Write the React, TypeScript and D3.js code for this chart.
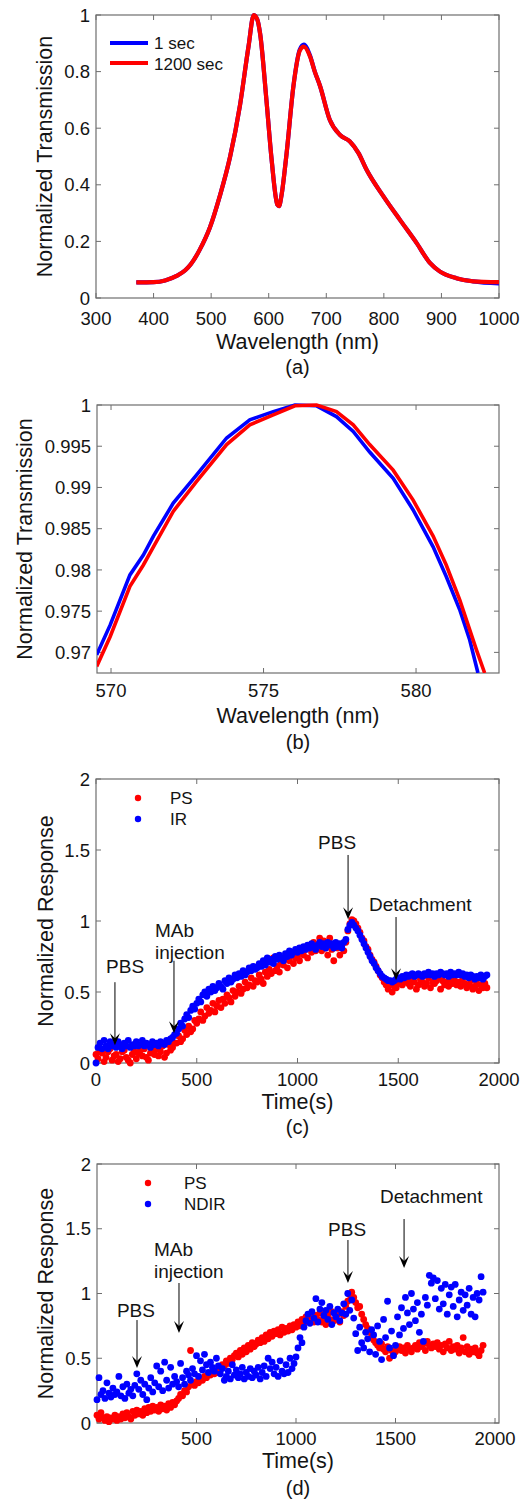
import * as d3 from "d3";

const FONT = "'Liberation Sans', Arial, Helvetica, sans-serif";
const BOX = "#6e6e6e";
const INK = "#141414";
const BLUE = "#0000ff";
const RED = "#ff0000";

// (a) full transmission spectrum
const specWl = [370, 400, 420, 440, 455, 465, 480, 498, 515, 533, 550, 565, 574, 580, 585, 596, 605, 615, 618, 622, 631, 643, 654, 661, 672, 680, 689, 706, 724, 741, 756, 770, 799, 828, 857, 880, 897, 926, 955, 1000];
const spec1s = [0.055, 0.056, 0.062, 0.078, 0.098, 0.12, 0.17, 0.25, 0.36, 0.5, 0.68, 0.89, 1.0, 0.985, 0.935, 0.7, 0.49, 0.33, 0.325, 0.36, 0.51, 0.75, 0.878, 0.895, 0.855, 0.8, 0.75, 0.63, 0.576, 0.553, 0.512, 0.453, 0.36, 0.276, 0.194, 0.124, 0.094, 0.07, 0.059, 0.052];
const spec1200s = [0.055, 0.056, 0.062, 0.078, 0.098, 0.12, 0.17, 0.25, 0.36, 0.5, 0.68, 0.89, 1.0, 0.985, 0.935, 0.7, 0.49, 0.33, 0.325, 0.36, 0.51, 0.75, 0.874, 0.888, 0.852, 0.8, 0.75, 0.63, 0.576, 0.553, 0.512, 0.453, 0.36, 0.276, 0.194, 0.124, 0.094, 0.07, 0.059, 0.056];
const specLegend = ["1 sec", "1200 sec"];

// (b) zoom on the first peak
const peakWl1s = [569.53, 569.97, 570.62, 571.06, 571.39, 572.04, 572.8, 573.79, 574.55, 575.32, 576.03, 576.74, 577.39, 577.94, 578.48, 579.25, 579.9, 580.56, 580.99, 581.43, 581.76, 582.03];
const peak1s = [0.9697, 0.9733, 0.9794, 0.9818, 0.9841, 0.9881, 0.9915, 0.996, 0.9982, 0.9992, 1.0, 0.9999, 0.9986, 0.9968, 0.9943, 0.9911, 0.9873, 0.9828, 0.9792, 0.9752, 0.9715, 0.9675];
const peakWl1200s = [569.53, 569.97, 570.62, 571.06, 571.39, 572.04, 572.8, 573.79, 574.55, 575.32, 576.03, 576.74, 577.39, 577.94, 578.48, 579.25, 579.9, 580.56, 580.99, 581.43, 581.98, 582.25];
const peak1200s = [0.9683, 0.9719, 0.978, 0.9806, 0.9828, 0.9871, 0.9907, 0.9952, 0.9976, 0.9988, 0.9999, 1.0, 0.9992, 0.9976, 0.9952, 0.9921, 0.9885, 0.9841, 0.9806, 0.9764, 0.9703, 0.9675];

// (c) and (d) kinetics, one reading every 10 s
const times = d3.range(0, 1950, 10);

const psC = [
  0.06, 0.03, 0.09, 0.07, 0.01, 0.04, 0.08, 0.10, 0.02, 0.05,
  0.06, 0.01, 0.03, 0.08, 0.09, 0.04, 0.02, 0.00, 0.06, 0.08,
  0.03, 0.07, 0.09, 0.05, 0.10, 0.04, 0.02, 0.07, 0.09, 0.06,
  0.10, 0.05, 0.08, 0.12, 0.04, 0.07, 0.13, 0.09, 0.11, 0.14,
  0.14, 0.19, 0.15, 0.17, 0.23, 0.20, 0.26, 0.22, 0.24, 0.30,
  0.28, 0.31, 0.36, 0.30, 0.33, 0.39, 0.35, 0.37, 0.42, 0.36,
  0.40, 0.44, 0.39, 0.45, 0.42, 0.48, 0.46, 0.43, 0.51, 0.47,
  0.50, 0.54, 0.49, 0.52, 0.57, 0.53, 0.55, 0.60, 0.54, 0.58,
  0.57, 0.62, 0.59, 0.56, 0.64, 0.61, 0.66, 0.63, 0.74, 0.65,
  0.68, 0.64, 0.71, 0.69, 0.73, 0.67, 0.72, 0.76, 0.70, 0.74,
  0.75, 0.72, 0.78, 0.76, 0.80, 0.74, 0.82, 0.78, 0.85, 0.79,
  0.83, 0.88, 0.79, 0.86, 0.81, 0.76, 0.88, 0.80, 0.72, 0.84,
  0.81, 0.76, 0.83, 0.79, 0.85, 0.93, 0.98, 1.01, 1.00, 0.98,
  0.95, 0.92, 0.88, 0.86, 0.82, 0.80, 0.76, 0.73, 0.71, 0.68,
  0.65, 0.62, 0.60, 0.57, 0.55, 0.52, 0.56, 0.50, 0.54, 0.53,
  0.56, 0.58, 0.55, 0.57, 0.60, 0.56, 0.54, 0.58, 0.57, 0.52,
  0.55, 0.59, 0.57, 0.54, 0.56, 0.60, 0.53, 0.57, 0.56, 0.58,
  0.60, 0.52, 0.58, 0.55, 0.57, 0.54, 0.59, 0.56, 0.58, 0.55,
  0.57, 0.54, 0.60, 0.56, 0.53, 0.55, 0.58, 0.52, 0.54, 0.56,
  0.51, 0.55, 0.53, 0.56, 0.53,
];
const irC = [
  0.00, 0.11, 0.14, 0.10, 0.16, 0.12, 0.10, 0.15, 0.12, 0.13,
  0.11, 0.15, 0.12, 0.10, 0.14, 0.12, 0.16, 0.11, 0.13, 0.12,
  0.15, 0.12, 0.13, 0.16, 0.12, 0.14, 0.13, 0.11, 0.15, 0.13,
  0.14, 0.12, 0.15, 0.14, 0.13, 0.16, 0.15, 0.17, 0.18, 0.20,
  0.21, 0.24, 0.28, 0.26, 0.31, 0.34, 0.32, 0.37, 0.40, 0.38,
  0.42, 0.45, 0.43, 0.48, 0.50, 0.47, 0.52, 0.50, 0.54, 0.51,
  0.53, 0.56, 0.54, 0.52, 0.58, 0.56, 0.60, 0.57, 0.59, 0.62,
  0.60, 0.63, 0.61, 0.65, 0.62, 0.64, 0.67, 0.65, 0.68, 0.66,
  0.67, 0.70, 0.68, 0.72, 0.69, 0.74, 0.71, 0.73, 0.70, 0.75,
  0.73, 0.76, 0.74, 0.72, 0.77, 0.75, 0.79, 0.76, 0.78, 0.80,
  0.78, 0.81, 0.79, 0.82, 0.80, 0.83, 0.81, 0.84, 0.82, 0.80,
  0.83, 0.85, 0.82, 0.84, 0.81, 0.85, 0.83, 0.84, 0.81, 0.85,
  0.82, 0.84, 0.81, 0.85, 0.87, 0.94, 0.97, 0.99, 0.97, 0.95,
  0.93, 0.90, 0.87, 0.84, 0.81, 0.78, 0.75, 0.72, 0.70, 0.67,
  0.65, 0.63, 0.61, 0.60, 0.59, 0.58, 0.58, 0.57, 0.58, 0.59,
  0.60, 0.59, 0.61, 0.60, 0.62, 0.61, 0.62, 0.63, 0.61, 0.62,
  0.63, 0.62, 0.61, 0.63, 0.62, 0.64, 0.62, 0.63, 0.61, 0.63,
  0.62, 0.64, 0.63, 0.62, 0.63, 0.61, 0.64, 0.62, 0.63, 0.62,
  0.64, 0.62, 0.63, 0.61, 0.62, 0.60, 0.62, 0.61, 0.59, 0.61,
  0.60, 0.62, 0.59, 0.61, 0.62,
];

const psD = [
  0.06, 0.03, 0.08, 0.04, 0.02, 0.05, 0.01, 0.04, 0.03, 0.06,
  0.02, 0.05, 0.03, 0.07, 0.04, 0.08, 0.05, 0.03, 0.09, 0.06,
  0.10, 0.07, 0.09, 0.06, 0.11, 0.08, 0.12, 0.09, 0.13, 0.10,
  0.12, 0.09, 0.14, 0.11, 0.13, 0.10, 0.15, 0.12, 0.16, 0.14,
  0.17, 0.19, 0.22, 0.21, 0.25, 0.24, 0.28, 0.56, 0.30, 0.29,
  0.32, 0.31, 0.34, 0.33, 0.36, 0.35, 0.38, 0.37, 0.39, 0.38,
  0.40, 0.39, 0.43, 0.45, 0.44, 0.48, 0.46, 0.50, 0.49, 0.52,
  0.54, 0.51, 0.56, 0.53, 0.58, 0.55, 0.60, 0.57, 0.62, 0.59,
  0.61, 0.64, 0.62, 0.66, 0.63, 0.68, 0.65, 0.70, 0.67, 0.71,
  0.69, 0.72, 0.68, 0.74, 0.70, 0.73, 0.71, 0.75, 0.72, 0.76,
  0.74, 0.78, 0.75, 0.80, 0.77, 0.82, 0.79, 0.84, 0.81, 0.78,
  0.83, 0.80, 0.85, 0.78, 0.82, 0.76, 0.84, 0.80, 0.86, 0.79,
  0.81, 0.84, 0.78, 0.86, 0.83, 0.90, 0.94, 0.99, 1.01, 0.97,
  0.93, 0.89, 0.90, 0.84, 0.80, 0.76, 0.73, 0.70, 0.66, 0.64,
  0.62, 0.60, 0.58, 0.61, 0.57, 0.55, 0.59, 0.50, 0.56, 0.53,
  0.55, 0.57, 0.59, 0.56, 0.58, 0.54, 0.60, 0.57, 0.55, 0.58,
  0.60, 0.57, 0.62, 0.59, 0.61, 0.56, 0.63, 0.60, 0.58, 0.61,
  0.59, 0.62, 0.57, 0.60, 0.55, 0.61, 0.58, 0.63, 0.56, 0.59,
  0.57, 0.60, 0.54, 0.58, 0.66, 0.55, 0.59, 0.53, 0.57, 0.55,
  0.58, 0.54, 0.52, 0.56, 0.60,
];
const ndirD = [
  0.18, 0.35, 0.22, 0.25, 0.19, 0.31, 0.23, 0.20, 0.27, 0.22,
  0.24, 0.36, 0.21, 0.28, 0.19, 0.30, 0.23, 0.26, 0.21, 0.29,
  0.38, 0.26, 0.33, 0.22, 0.30, 0.18, 0.27, 0.35, 0.24, 0.31,
  0.44, 0.28, 0.40, 0.25, 0.47, 0.33, 0.27, 0.43, 0.30, 0.36,
  0.32, 0.28, 0.46, 0.35, 0.30, 0.40, 0.37, 0.33, 0.42, 0.38,
  0.52, 0.36, 0.48, 0.41, 0.53, 0.45, 0.39, 0.47, 0.43, 0.40,
  0.50, 0.44, 0.38, 0.42, 0.33, 0.36, 0.40, 0.34, 0.45, 0.37,
  0.41, 0.35, 0.38, 0.43, 0.34, 0.39, 0.36, 0.42, 0.35, 0.40,
  0.37, 0.43, 0.34, 0.39, 0.44, 0.36, 0.50, 0.42, 0.47, 0.38,
  0.43, 0.36, 0.48, 0.40, 0.38, 0.45, 0.39, 0.50, 0.42, 0.46,
  0.51, 0.58, 0.66, 0.62, 0.74, 0.79, 0.84, 0.77, 0.86, 0.81,
  0.96, 0.78, 0.88, 0.93, 0.83, 0.87, 0.80, 0.90, 0.76, 0.85,
  0.82, 0.88, 0.79, 0.85, 0.92, 0.84, 1.00, 0.87, 0.95, 0.81,
  0.69, 0.56, 0.74, 0.62, 0.58, 0.70, 0.65, 0.55, 0.72, 0.68,
  0.53, 0.75, 0.63, 0.49, 0.80, 0.66, 0.94, 0.58, 0.71, 0.52,
  0.60, 0.82, 0.68, 0.89, 0.73, 0.97, 0.85, 0.76, 1.00, 0.88,
  0.79, 0.93, 0.70, 0.84, 0.63, 0.97, 0.91, 1.14, 1.08, 1.12,
  0.96, 1.10, 0.88, 1.04, 0.92, 1.07, 0.84, 0.99, 1.05, 0.90,
  1.07, 0.82, 0.95, 1.01, 0.87, 0.99, 0.91, 1.04, 0.84, 0.97,
  0.82, 1.00, 0.95, 1.13, 1.01,
];

// arrows: text left/baseline and arrow x, tail and tip, all in data units
const notesC = [
  { lines: ["PBS"], tx: 50, ty: 0.632, ax: 94, a0: 0.569, a1: 0.125 },
  { lines: ["MAb", "injection"], tx: 293, ty: 0.886, ax: 387, a0: 0.72, a1: 0.209 },
  { lines: ["PBS"], tx: 1102, ty: 1.507, ax: 1251, a0: 1.465, a1: 1.013 },
  { lines: ["Detachment"], tx: 1355, ty: 1.07, ax: 1489, a0: 1.028, a1: 0.583 },
];
const notesD = [
  { lines: ["PBS"], tx: 100, ty: 0.819, ax: 201, a0: 0.795, a1: 0.425 },
  { lines: ["MAb", "injection"], tx: 286, ty: 1.29, ax: 412, a0: 1.081, a1: 0.695 },
  { lines: ["PBS"], tx: 1161, ty: 1.444, ax: 1261, a0: 1.413, a1: 1.081 },
  { lines: ["Detachment"], tx: 1422, ty: 1.699, ax: 1543, a0: 1.575, a1: 1.197 },
];

type Box = { left: number; right: number; top: number; bottom: number };

function Frame(props: any) {
  const { box, x, y, xTicks, yTicks, fmtX, fmtY, xLabel, yLabel, caption, gaps, yLabelX } = props;
  const { left, right, top, bottom } = box;
  const midX = (left + right) / 2;
  return (
    <g fontFamily={FONT} fill={INK}>
      <rect x={left} y={top} width={right - left} height={bottom - top} fill="none" stroke={BOX} strokeWidth={1.2} />
      {xTicks.map((t: number) => (
        <g key={"x" + t}>
          <line x1={x(t)} x2={x(t)} y1={bottom} y2={bottom - 5} stroke={BOX} />
          <line x1={x(t)} x2={x(t)} y1={top} y2={top + 5} stroke={BOX} />
          <text x={x(t)} y={bottom + gaps[0]} textAnchor="middle" fontSize={18.5}>{fmtX(t)}</text>
        </g>
      ))}
      {yTicks.map((t: number) => (
        <g key={"y" + t}>
          <line x1={left} x2={left + 5} y1={y(t)} y2={y(t)} stroke={BOX} />
          <line x1={right} x2={right - 5} y1={y(t)} y2={y(t)} stroke={BOX} />
          <text x={left - 6} y={y(t)} dy="0.36em" textAnchor="end" fontSize={18.5}>{fmtY(t)}</text>
        </g>
      ))}
      <text x={midX} y={bottom + gaps[1]} textAnchor="middle" fontSize={21.5}>{xLabel}</text>
      <text x={midX} y={bottom + gaps[2]} textAnchor="middle" fontSize={20}>{caption}</text>
      <text transform={`translate(${yLabelX},${(top + bottom) / 2}) rotate(-90)`} textAnchor="middle" fontSize={21.5}>{yLabel}</text>
    </g>
  );
}

function Notes({ notes, x, y }: any) {
  return (
    <g fontFamily={FONT} fill={INK}>
      {notes.map((n: any, i: number) => {
        const ax = x(n.ax);
        const tip = y(n.a1);
        return (
          <g key={i}>
            {n.lines.map((s: string, j: number) => (
              <text key={j} x={x(n.tx)} y={y(n.ty) + j * 22} fontSize={19}>{s}</text>
            ))}
            <line x1={ax} x2={ax} y1={y(n.a0)} y2={tip - 6} stroke="#000" strokeWidth={1} />
            <path d={`M${ax},${tip} L${ax - 5},${tip - 12} L${ax},${tip - 7} L${ax + 5},${tip - 12} Z`} fill="#000" />
          </g>
        );
      })}
    </g>
  );
}

function Dots({ xs, ys, x, y, color }: any) {
  return (
    <g fill={color}>
      {ys.map((v: number, i: number) => (
        <circle key={i} cx={x(xs[i])} cy={y(v)} r={3.4} />
      ))}
    </g>
  );
}

function Spectrum() {
  const box: Box = { left: 96, right: 499, top: 15, bottom: 298 };
  const x = d3.scaleLinear().domain([300, 1000]).range([box.left, box.right]);
  const y = d3.scaleLinear().domain([0, 1]).range([box.bottom, box.top]);
  const line = (vals: number[]) =>
    d3.line<number>().x((_, i) => x(specWl[i])).y((v) => y(v)).curve(d3.curveMonotoneX)(vals) || "";
  return (
    <g>
      <Frame box={box} x={x} y={y} xTicks={d3.range(300, 1001, 100)} yTicks={[0, 0.2, 0.4, 0.6, 0.8, 1]}
        fmtX={(t: number) => String(t)} fmtY={(t: number) => String(+t.toFixed(1))}
        xLabel="Wavelength (nm)" yLabel="Normalized Transmission" caption="(a)" gaps={[27, 51, 76]} yLabelX={52} />
      <path d={line(spec1s)} fill="none" stroke={BLUE} strokeWidth={4.2} />
      <path d={line(spec1200s)} fill="none" stroke={RED} strokeWidth={4.2} />
      <g fontFamily={FONT} fill={INK} fontSize={17}>
        {[BLUE, RED].map((c, i) => (
          <g key={c}>
            <line x1={box.left + 14} x2={box.left + 52} y1={box.top + 28 + i * 20} y2={box.top + 28 + i * 20} stroke={c} strokeWidth={4} />
            <text x={box.left + 58} y={box.top + 34 + i * 20.5}>{specLegend[i]}</text>
          </g>
        ))}
      </g>
    </g>
  );
}

function Peak() {
  const box: Box = { left: 97, right: 499, top: 405, bottom: 673 };
  const x = d3.scaleLinear().domain([569.54, 582.72]).range([box.left, box.right]);
  const y = d3.scaleLinear().domain([0.9675, 1]).range([box.bottom, box.top]);
  const line = (wl: number[], vals: number[]) =>
    d3.line<number>().x((_, i) => x(wl[i])).y((v) => y(v))(vals) || "";
  return (
    <g>
      <defs>
        <clipPath id="clipB">
          <rect x={box.left} y={box.top - 3} width={box.right - box.left} height={box.bottom - box.top + 3} />
        </clipPath>
      </defs>
      <Frame box={box} x={x} y={y} xTicks={[570, 575, 580]} yTicks={[0.97, 0.975, 0.98, 0.985, 0.99, 0.995, 1]}
        fmtX={(t: number) => String(t)} fmtY={(t: number) => String(+t.toFixed(3))}
        xLabel="Wavelength (nm)" yLabel="Normalized Transmission" caption="(b)" gaps={[23.5, 50, 76]} yLabelX={31.5} />
      <g clipPath="url(#clipB)">
        <path d={line(peakWl1s, peak1s)} fill="none" stroke={BLUE} strokeWidth={3.6} />
        <path d={line(peakWl1200s, peak1200s)} fill="none" stroke={RED} strokeWidth={3.6} />
      </g>
    </g>
  );
}

function Kinetics(props: any) {
  const { box, xDomain, xTicks, ps, other, otherName, notes, caption, gaps, legend } = props;
  const x = d3.scaleLinear().domain(xDomain).range([box.left, box.right]);
  const y = d3.scaleLinear().domain([0, 2]).range([box.bottom, box.top]);
  return (
    <g>
      <Frame box={box} x={x} y={y} xTicks={xTicks} yTicks={[0, 0.5, 1, 1.5, 2]}
        fmtX={(t: number) => String(t)} fmtY={(t: number) => String(t)}
        xLabel="Time(s)" yLabel="Normalized Response" caption={caption} gaps={gaps} yLabelX={52.5} />
      <Dots xs={times} ys={ps} x={x} y={y} color={RED} />
      <Dots xs={times} ys={other} x={x} y={y} color={BLUE} />
      <Notes notes={notes} x={x} y={y} />
      <g fontFamily={FONT} fill={INK} fontSize={17}>
        {[["PS", RED], [otherName, BLUE]].map(([name, c], i) => (
          <g key={name}>
            <circle cx={box.left + legend[0]} cy={box.top + 19 + i * 21} r={3.2} fill={c} />
            <text x={box.left + legend[1]} y={box.top + 25 + i * 21}>{name}</text>
          </g>
        ))}
      </g>
    </g>
  );
}

export default function App() {
  return (
    <svg width={522} height={1503} style={{ position: "absolute", left: 0, top: 0, background: "#fff" }}>
      <rect width={522} height={1503} fill="#fff" />
      <Spectrum />
      <Peak />
      <Kinetics box={{ left: 96, right: 499, top: 779, bottom: 1063 }} xDomain={[0, 2000]} xTicks={[0, 500, 1000, 1500, 2000]}
        ps={psC} other={irC} otherName="IR" notes={notesC} caption="(c)" gaps={[22.5, 46, 71]} legend={[42, 74]} />
      <Kinetics box={{ left: 97, right: 499, top: 1164, bottom: 1423 }} xDomain={[0, 2020]} xTicks={[500, 1000, 1500, 2000]}
        ps={psD} other={ndirD} otherName="NDIR" notes={notesD} caption="(d)" gaps={[22, 45, 72]} legend={[51, 87]} />
    </svg>
  );
}
